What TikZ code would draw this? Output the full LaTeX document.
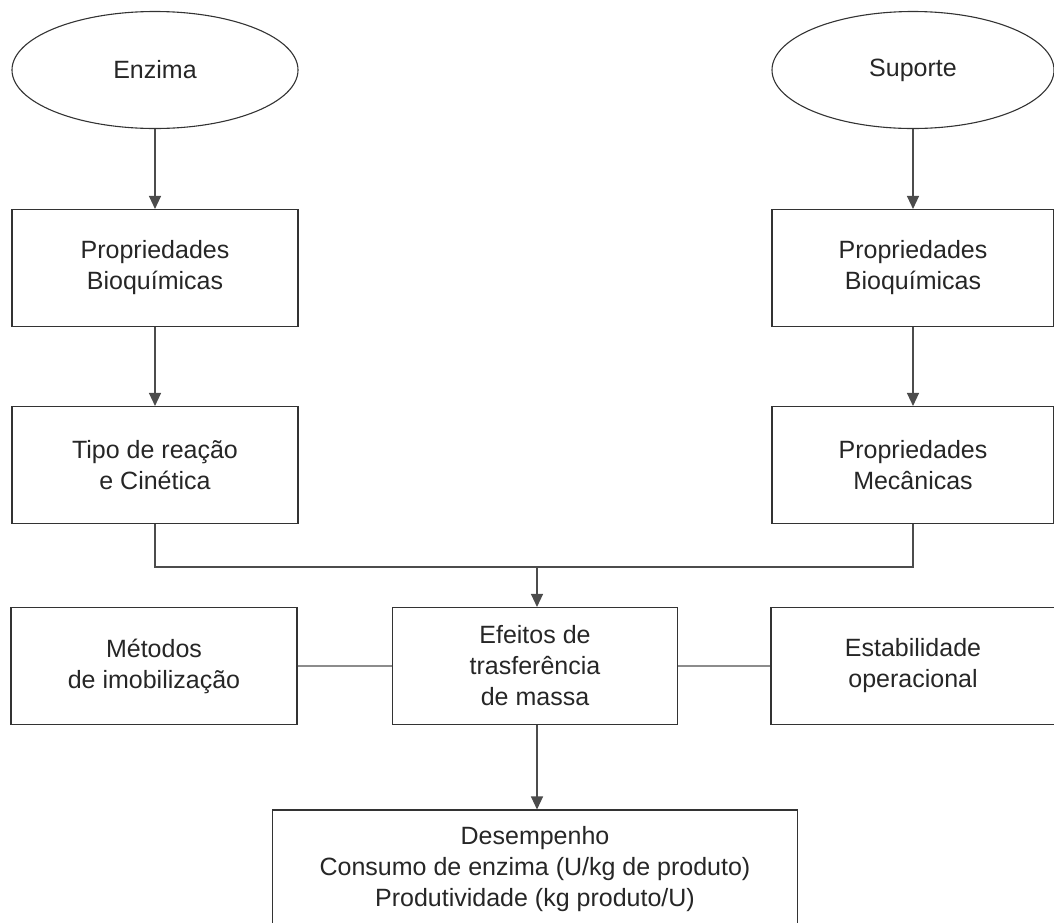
\documentclass[tikz,border=0pt]{standalone}
\usepackage{fontspec}
\setmainfont{Liberation Sans}
\usepackage{tikz}
\usetikzlibrary{shapes,arrows.meta,positioning,calc}

\tikzset{
  box/.style={draw=black!80, line width=1.1pt, minimum width=286pt, minimum height=117pt,
    inner sep=0pt, align=center, text=black!85, font=\fontsize{25}{31}\selectfont},
  blob/.style={ellipse, draw=black!80, line width=1.1pt, minimum width=286pt, minimum height=117pt,
    inner sep=0pt, text=black!85, font=\fontsize{25}{31}\selectfont},
  arr/.style={-{Triangle[length=13pt,width=12pt]}, line width=1.2pt, draw=black!70},
  link/.style={line width=2pt, draw=black!45},
}

\begin{document}
\begin{tikzpicture}[x=1pt, y=-1pt]
\useasboundingbox (0,0) rectangle (1054,922);
\clip (0,0) rectangle (1054,922);

% Enzyme column
\node[blob] (enz) at (155,70) {Enzima};
\node[box] (bioE) at (155,268) {Propriedades\\Bioquímicas};
\node[box] (tipo) at (155,465) {Tipo de reação\\e Cinética};

% Support column
\node[blob, minimum width=282pt] (sup) at (913,70) {Suporte};
\node[box, minimum width=282pt] (bioS) at (913,268) {Propriedades\\Bioquímicas};
\node[box, minimum width=282pt] (mec) at (913,465) {Propriedades\\Mecânicas};

% Middle row
\node[box] (met) at (154,666) {Métodos\\de imobilização};
\node[box, minimum width=285pt] (efe) at (535,666) {Efeitos de\\trasferência\\de massa};
\node[box, minimum width=284pt] (est) at (913,666) {Estabilidade\\operacional};

% Performance
\node[box, minimum width=525pt, minimum height=118pt] (des) at (535,869)
  {Desempenho\\Consumo de enzima (U/kg de produto)\\Produtividade (kg produto/U)};

\coordinate (jn) at (537,567);

\draw[arr] (enz) -- (bioE);
\draw[arr] (bioE) -- (tipo);
\draw[arr] (sup) -- (bioS);
\draw[arr] (bioS) -- (mec);
\draw[line width=1.2pt, draw=black!70] (tipo.south) |- (jn) -| (mec.south);
\draw[arr] (jn) -- (jn |- efe.north);
\draw[link] (met) -- (efe);
\draw[link] (efe) -- (est);
\draw[arr] (efe.south -| jn) -- (jn |- des.north);
\end{tikzpicture}
\end{document}
